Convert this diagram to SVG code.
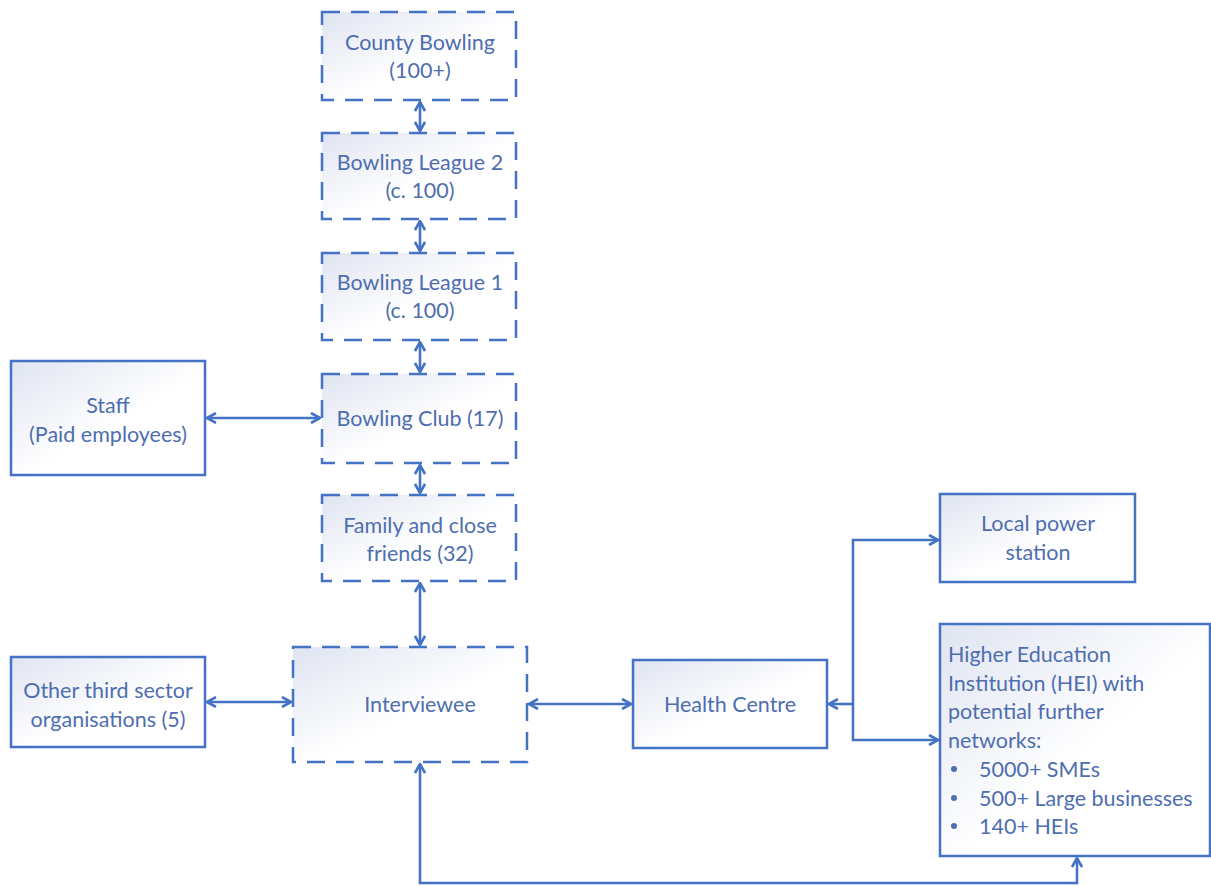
<svg xmlns="http://www.w3.org/2000/svg" width="1211" height="886" viewBox="0 0 1211 886">
<defs>
<linearGradient id="g" x1="0" y1="0" x2="1" y2="1">
<stop offset="0" stop-color="#dfe4f1"/>
<stop offset="0.55" stop-color="#ffffff"/>
<stop offset="1" stop-color="#ffffff"/>
</linearGradient>
<marker id="a" viewBox="0 0 12 12" refX="11" refY="6" markerWidth="12" markerHeight="12" markerUnits="userSpaceOnUse" orient="auto-start-reverse">
<path d="M2,1 L11,6 L2,11" fill="none" stroke="#4472C4" stroke-width="2.6"/>
</marker>
</defs>
<style>
.box{fill:url(#g);stroke:#4472C4;stroke-width:2.5}
.dash{stroke-dasharray:18 11}
.t{font-family:Lato,"Open Sans",sans-serif;font-size:21.5px;fill:#4e6eb0;text-anchor:middle}
.l{text-anchor:start}
.c{fill:none;stroke:#4472C4;stroke-width:2.6}
</style>
<rect width="1211" height="886" fill="#ffffff"/>
<g id="county"><rect class="box dash" x="322" y="12" width="194" height="88"/><text class="t" x="420" y="50">County Bowling</text><text class="t" x="420" y="78">(100+)</text></g>
<g id="league2"><rect class="box dash" x="322" y="133" width="194" height="86"/><text class="t" x="420" y="170">Bowling League 2</text><text class="t" x="420" y="198">(c. 100)</text></g>
<g id="league1"><rect class="box dash" x="322" y="253" width="194" height="87"/><text class="t" x="420" y="290">Bowling League 1</text><text class="t" x="420" y="318">(c. 100)</text></g>
<g id="club"><rect class="box dash" x="322" y="374" width="194" height="89"/><text class="t" x="420" y="426">Bowling Club (17)</text></g>
<g id="family"><rect class="box dash" x="322" y="495" width="194" height="86"/><text class="t" x="420" y="533">Family and close</text><text class="t" x="420" y="561">friends (32)</text></g>
<g id="interviewee"><rect class="box dash" x="293" y="647" width="234" height="115"/><text class="t" x="420" y="712">Interviewee</text></g>
<g id="staff"><rect class="box" x="11" y="361" width="194" height="114"/><text class="t" x="108" y="413">Staff</text><text class="t" x="108" y="442">(Paid employees)</text></g>
<g id="other"><rect class="box" x="11" y="657" width="194" height="90"/><text class="t" x="108" y="698">Other third sector</text><text class="t" x="108" y="727">organisations (5)</text></g>
<g id="health"><rect class="box" x="633" y="660" width="194" height="88"/><text class="t" x="730" y="712">Health Centre</text></g>
<g id="power"><rect class="box" x="940" y="494" width="195" height="88"/><text class="t" x="1038" y="531">Local power</text><text class="t" x="1038" y="560">station</text></g>
<g id="hei"><rect class="box" x="940" y="624" width="270" height="232"/>
<text class="t l" x="948" y="662">Higher Education</text>
<text class="t l" x="948" y="691">Institution (HEI) with</text>
<text class="t l" x="948" y="719">potential further</text>
<text class="t l" x="948" y="748">networks:</text>
<circle cx="954" cy="769" r="3" fill="#4e6eb0"/><text class="t l" x="979" y="777">5000+ SMEs</text>
<circle cx="954" cy="798" r="3" fill="#4e6eb0"/><text class="t l" x="979" y="806">500+ Large businesses</text>
<circle cx="954" cy="826" r="3" fill="#4e6eb0"/><text class="t l" x="979" y="834">140+ HEIs</text>
</g>
<g id="connectors">
<line class="c" x1="420" y1="102" x2="420" y2="131" marker-start="url(#a)" marker-end="url(#a)"/>
<line class="c" x1="420" y1="221" x2="420" y2="251" marker-start="url(#a)" marker-end="url(#a)"/>
<line class="c" x1="420" y1="342" x2="420" y2="372" marker-start="url(#a)" marker-end="url(#a)"/>
<line class="c" x1="420" y1="465" x2="420" y2="493" marker-start="url(#a)" marker-end="url(#a)"/>
<line class="c" x1="420" y1="583" x2="420" y2="645" marker-start="url(#a)" marker-end="url(#a)"/>
<line class="c" x1="207" y1="418" x2="320" y2="418" marker-start="url(#a)" marker-end="url(#a)"/>
<line class="c" x1="207" y1="702" x2="291" y2="702" marker-start="url(#a)" marker-end="url(#a)"/>
<line class="c" x1="529" y1="704" x2="631" y2="704" marker-start="url(#a)" marker-end="url(#a)"/>
<polyline class="c" points="938,540 853,540 853,740 938,740" marker-start="url(#a)" marker-end="url(#a)"/>
<line class="c" x1="853" y1="704" x2="829" y2="704" marker-end="url(#a)"/>
<polyline class="c" points="420,764 420,883 1077,883 1077,858" marker-start="url(#a)" marker-end="url(#a)"/>
</g>
</svg>
